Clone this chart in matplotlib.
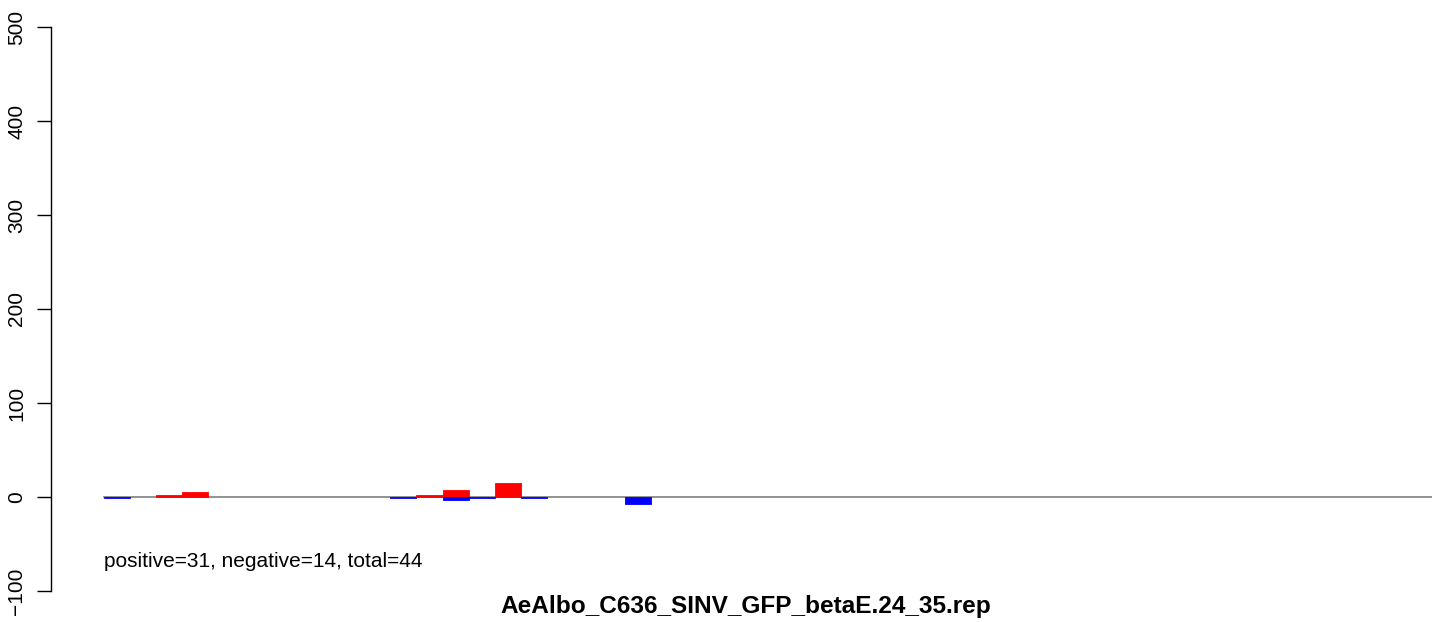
import numpy as np
import matplotlib
matplotlib.use("Agg")
import matplotlib.pyplot as plt

plt.rcParams['font.family'] = ['Liberation Sans', 'DejaVu Sans']

# read counts per slot (51 slots, slot width = 1)
n_slots = 51
pos_slots = [2, 3, 12, 13, 15]
pos_counts = [2, 5, 2, 7, 15]
neg_slots = [0, 11, 13, 14, 16, 20]
neg_counts = [1, 1, 3, 1, 1, 7]

yticks = [-100, 0, 100, 200, 300, 400, 500]
title = "AeAlbo_C636_SINV_GFP_betaE.24_35.rep"
note = "positive=31, negative=14, total=44"

positive = np.zeros(n_slots)
negative = np.zeros(n_slots)
positive[pos_slots] = pos_counts
negative[neg_slots] = neg_counts

W, H = 1444, 622
fig = plt.figure(figsize=(W / 100, H / 100), dpi=100)
# axes box in pixels: left 51, right 1432, top 27 (y=500), bottom 591 (y=-100)
ax = fig.add_axes([51 / W, 1 - 591 / H, (1432 - 51) / W, (591 - 27) / H])
ax.set_ylim(-100, 500)
ax.set_xlim(-2.035, 51.0)

x = np.arange(n_slots)
ax.plot([0, n_slots], [0, 0], color='#7f7f7f', lw=1.2, zorder=1)
ax.bar(x[positive > 0], positive[positive > 0], width=1.0, align='edge',
       color='#ff0000', edgecolor='#ff0000', lw=0.6, zorder=2)
ax.bar(x[negative > 0], -negative[negative > 0], width=1.0, align='edge',
       color='#0000ff', edgecolor='#0000ff', lw=0.6, zorder=2)

ax.text(0, -69, note, fontsize=15, va='center', ha='left')
fig.text(746 / W, 1 - 606 / H, title, fontsize=17.6, fontweight='bold',
         ha='center', va='center')

for s in ['top', 'right', 'bottom']:
    ax.spines[s].set_visible(False)
ax.spines['left'].set_bounds(-100, 500)
ax.spines['left'].set_linewidth(1.0)
ax.set_xticks([])
ax.set_yticks(yticks)
ax.set_yticklabels([str(v).replace('-', '\u2212') for v in yticks],
                   rotation=90, va='center', fontsize=15)
ax.tick_params(axis='y', length=10, width=1.0, pad=8)

fig.savefig("out.png", dpi=100)
